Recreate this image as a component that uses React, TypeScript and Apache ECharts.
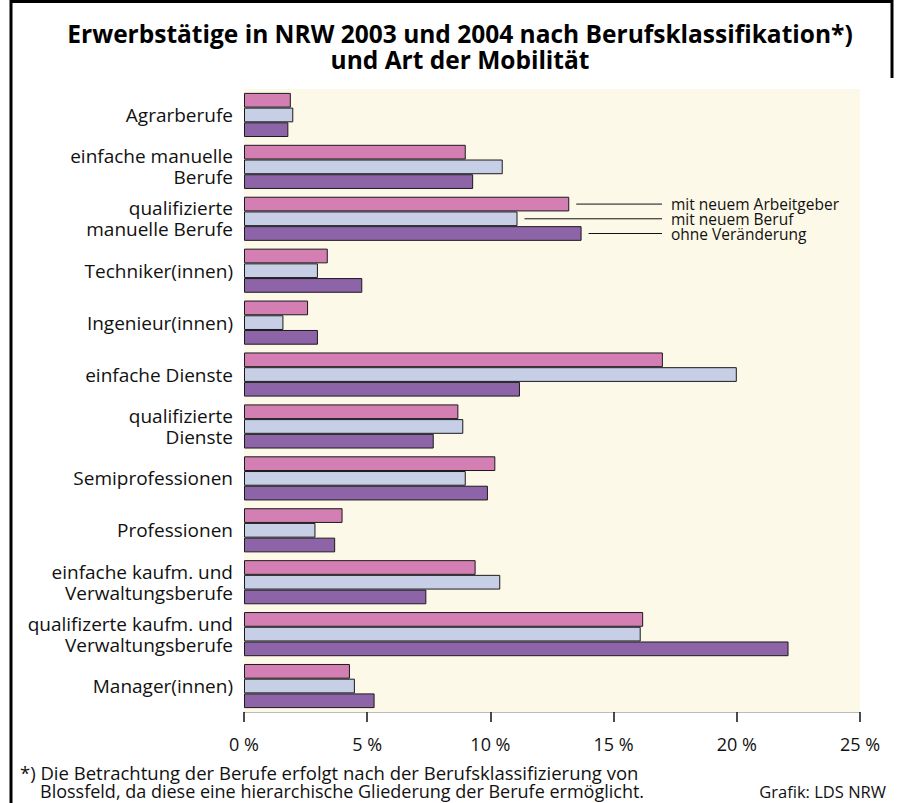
import React, { useEffect, useRef } from "react";
import * as echarts from "echarts";

const categories = [
  "Agrarberufe",
  "einfache manuelle\nBerufe",
  "qualifizierte\nmanuelle Berufe",
  "Techniker(innen)",
  "Ingenieur(innen)",
  "einfache Dienste",
  "qualifizierte\nDienste",
  "Semiprofessionen",
  "Professionen",
  "einfache kaufm. und\nVerwaltungsberufe",
  "qualifizerte kaufm. und\nVerwaltungsberufe",
  "Manager(innen)",
];

const seriesNames = ["mit neuem Arbeitgeber", "mit neuem Beruf", "ohne Veränderung"];
const mitNeuemArbeitgeber = [1.9, 9.0, 13.2, 3.4, 2.6, 17.0, 8.7, 10.2, 4.0, 9.4, 16.2, 4.3];
const mitNeuemBeruf = [2.0, 10.5, 11.1, 3.0, 1.6, 20.0, 8.9, 9.0, 2.9, 10.4, 16.1, 4.5];
const ohneVeraenderung = [1.8, 9.3, 13.7, 4.8, 3.0, 11.2, 7.7, 9.9, 3.7, 7.4, 22.1, 5.3];
const xTicks = [0, 5, 10, 15, 20, 25];
const annotatedCategory = 2;

const colors = ["#D37FB4", "#C7CFE7", "#8E64A9"];
const FONT = "'Open Sans', 'Noto Sans', sans-serif";

export default function App() {
  const ref = useRef<HTMLDivElement>(null);
  useEffect(() => {
    if (!ref.current) return;
    const chart = echarts.init(ref.current, null, { renderer: "svg" });
    const seriesData = [mitNeuemArbeitgeber, mitNeuemBeruf, ohneVeraenderung];
    chart.setOption({
      animation: false,
      textStyle: { fontFamily: FONT },
      grid: {
        left: 244,
        right: 40,
        top: 89,
        height: 623,
        show: true,
        backgroundColor: "#FDF9E8",
        borderWidth: 0,
      },
      xAxis: {
        type: "value",
        min: xTicks[0],
        max: xTicks[xTicks.length - 1],
        interval: 5,
        splitLine: { show: false },
        axisLine: { show: true, lineStyle: { color: "#bbbbbb", width: 1 } },
        axisTick: { show: true, length: 10, lineStyle: { color: "#111", width: 1.5 } },
        axisLabel: {
          margin: 23,
          fontSize: 18,
          color: "#111",
          fontFamily: FONT,
          formatter: (v: number) => `${v} %`,
        },
      },
      yAxis: {
        type: "category",
        inverse: true,
        data: categories,
        axisLine: { show: false },
        axisTick: { show: false },
        axisLabel: {
          margin: 11,
          fontSize: 19,
          lineHeight: 21,
          color: "#111",
          fontFamily: FONT,
          align: "right",
        },
      },
      series: seriesData.map((d, i) => ({
        type: "bar",
        name: seriesNames[i],
        data: d,
        barGap: "0%",
        barCategoryGap: "15%",
        itemStyle: { color: colors[i], borderColor: "#1a1a1a", borderWidth: 1 },
      })),
    });

    const model = (chart as any).getModel();
    const graphics: any[] = [];
    // frame
    graphics.push(
      { type: "line", shape: { x1: 11, y1: 0, x2: 11, y2: 803 }, style: { stroke: "#000", lineWidth: 3 } },
      { type: "line", shape: { x1: 10, y1: 1.5, x2: 893, y2: 1.5 }, style: { stroke: "#000", lineWidth: 3 } },
      { type: "line", shape: { x1: 892, y1: 0, x2: 892, y2: 78 }, style: { stroke: "#000", lineWidth: 3 } }
    );
    // title
    graphics.push(
      {
        type: "text",
        x: 460,
        y: 33,
        style: {
          text: "Erwerbstätige in NRW 2003 und 2004 nach Berufsklassifikation*)",
          font: `bold 24.5px ${FONT}`,
          lineHeight: 22,
          fill: "#000",
          align: "center",
          verticalAlign: "middle",
        },
      },
      {
        type: "text",
        x: 460,
        y: 59,
        style: {
          text: "und Art der Mobilität",
          font: `bold 24.5px ${FONT}`,
          lineHeight: 22,
          fill: "#000",
          align: "center",
          verticalAlign: "middle",
        },
      }
    );
    // annotations from bar layouts
    const labelX = 662;
    for (let i = 0; i < 3; i++) {
      const s = model.getSeriesByIndex(i);
      const layout = s.getData().getItemLayout(annotatedCategory);
      const endX = layout.x + layout.width;
      const cy = layout.y + layout.height / 2;
      graphics.push(
        {
          type: "line",
          shape: { x1: endX + 7, y1: cy, x2: labelX, y2: cy },
          style: { stroke: "#111", lineWidth: 1 },
        },
        {
          type: "text",
          x: labelX + 9,
          y: cy,
          style: {
            text: seriesNames[i],
            font: `15.5px ${FONT}`,
            lineHeight: 13,
            fill: "#111",
            align: "left",
            verticalAlign: "middle",
          },
        }
      );
    }
    // footnote
    graphics.push(
      {
        type: "text",
        x: 20,
        y: 772,
        style: {
          text: "*) Die Betrachtung der Berufe erfolgt nach der Berufsklassifizierung von",
          font: `18.5px ${FONT}`,
          lineHeight: 18,
          fill: "#111",
          verticalAlign: "middle",
        },
      },
      {
        type: "text",
        x: 40,
        y: 791,
        style: {
          text: "Blossfeld, da diese eine hierarchische Gliederung der Berufe ermöglicht.",
          font: `18px ${FONT}`,
          lineHeight: 18,
          fill: "#111",
          verticalAlign: "middle",
        },
      },
      {
        type: "text",
        x: 886,
        y: 791,
        style: {
          text: "Grafik: LDS NRW",
          font: `16.5px ${FONT}`,
          lineHeight: 18,
          fill: "#111",
          align: "right",
          verticalAlign: "middle",
        },
      }
    );
    chart.setOption({ graphic: graphics });
    return () => chart.dispose();
  }, []);
  return <div ref={ref} style={{ width: 900, height: 803, position: "absolute", left: 0, top: 0 }} />;
}
